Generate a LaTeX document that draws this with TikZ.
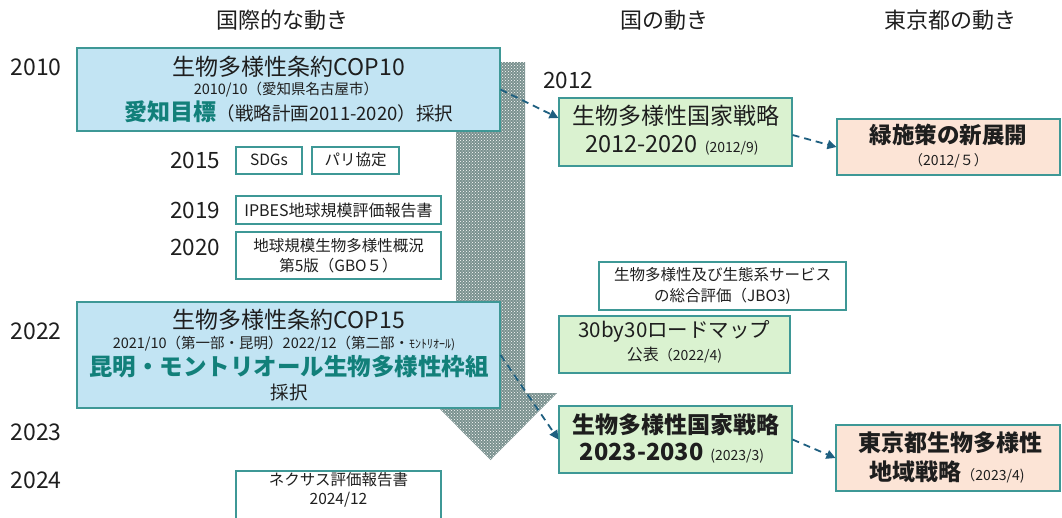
\documentclass[tikz,border=0pt]{standalone}
\usepackage{fontspec}
\setmainfont{Noto Sans CJK JP}
\usetikzlibrary{arrows.meta,patterns}
\definecolor{boxline}{RGB}{62,152,150}
\definecolor{bluefill}{RGB}{194,228,243}
\definecolor{greenfill}{RGB}{218,242,208}
\definecolor{peachfill}{RGB}{252,228,214}
\definecolor{tealtxt}{RGB}{18,128,122}
\definecolor{arrowblue}{RGB}{30,95,128}
\definecolor{arrowgray}{RGB}{122,145,143}
\definecolor{txt}{RGB}{30,30,30}
\newcommand\fs[2]{\fontsize{#1}{#2}\selectfont}
\tikzset{
  box/.style={draw=boxline, line width=1.1pt, inner sep=0pt, rectangle},
  bluebox/.style={box, fill=bluefill},
  greenbox/.style={box, fill=greenfill},
  peachbox/.style={box, fill=peachfill},
  whitebox/.style={box, fill=white},
  tx/.style={inner sep=0pt, text=txt, anchor=center},
  dasharrow/.style={draw=arrowblue, line width=1.8pt, dash pattern=on 7pt off 5pt,
    -{Triangle[length=9pt,width=9pt]}},
}
\begin{document}
\begin{tikzpicture}[x=1pt,y=-1pt]
\useasboundingbox (0,0) rectangle (1062,517);
% big timeline arrow
\fill[arrowgray] (456,62) -- (525,62) -- (525,393) -- (557,393) -- (490.5,460) -- (424,393) -- (456,393) -- cycle;
\fill[pattern=crosshatch dots, pattern color=white] (456,62) -- (525,62) -- (525,393) -- (557,393) -- (490.5,460) -- (424,393) -- (456,393) -- cycle;

% headers
\node[tx] (h1) at (282,20) {\fs{22}{26}国際的な動き};
\node[tx] (h2) at (664,20) {\fs{22}{26}国の動き};
\node[tx] (h3) at (950,20) {\fs{22}{26}東京都の動き};

% years
\node[tx] (y2010) at (36,67) {\fs{23}{27}2010};
\node[tx] (y2022) at (36,331) {\fs{23}{27}2022};
\node[tx] (y2023) at (36,432) {\fs{23}{27}2023};
\node[tx] (y2024) at (36,480) {\fs{23}{27}2024};
\node[tx] (y2015) at (195,160) {\fs{22.5}{27}2015};
\node[tx] (y2019) at (195,210) {\fs{22.5}{27}2019};
\node[tx] (y2020) at (195,247) {\fs{22.5}{27}2020};
\node[tx] (y2012) at (568,80) {\fs{22.5}{27}2012};

% international column
\node[bluebox, minimum width=423pt, minimum height=83pt] (cop10) at (288.5,89.5) {};
\node[tx] (cop10a) at (289,67) {\fs{23}{27}生物多様性条約COP10};
\node[tx] (cop10b) at (286,90) {\fs{14.5}{17}2010/10（愛知県名古屋市）};
\node[tx] (cop10c) at (289,112) {{\fs{23}{27}\bfseries\color{tealtxt}愛知目標}{\fs{18.5}{22}（戦略計画2011-2020）採択}};

\node[whitebox, minimum width=66pt, minimum height=27pt] (sdgs) at (269,160.5) {};
\node[tx] (sdgst) at (269,160) {\fs{15.5}{18}SDGs};
\node[whitebox, minimum width=87pt, minimum height=27pt] (paris) at (355.5,160.5) {};
\node[tx] (parist) at (355.5,160) {\fs{15.5}{18}パリ協定};

\node[whitebox, minimum width=205pt, minimum height=28pt] (ipbes) at (338.5,210) {};
\node[tx] (ipbest) at (338.5,210) {\fs{16}{19}IPBES地球規模評価報告書};

\node[whitebox, minimum width=205pt, minimum height=47pt] (gbo) at (338.5,255.5) {};
\node[tx] (gboa) at (338.5,246) {\fs{15.5}{18}地球規模生物多様性概況};
\node[tx] (gbob) at (338.5,266) {\fs{15.5}{18}第5版（GBO５）};

\node[bluebox, minimum width=423pt, minimum height=106pt] (cop15) at (288.5,355) {};
\node[tx] (cop15a) at (289,320) {\fs{23}{27}生物多様性条約COP15};
\node[tx] (cop15b) at (284,344) {\fs{14.5}{17}2021/10（第一部・昆明）2022/12（第二部・{\fs{12}{14}ﾓﾝﾄﾘｵｰﾙ)}};
\node[tx] (cop15c) at (289,367) {\fs{23.5}{28}\bfseries\color{tealtxt}昆明・モントリオール生物多様性枠組};
\node[tx] (cop15d) at (289,392) {\fs{18.5}{22}採択};

\node[whitebox, minimum width=205pt, minimum height=51pt] (nexus) at (338.5,496.5) {};
\node[tx] (nexusa) at (338.5,480) {\fs{15.5}{18}ネクサス評価報告書};
\node[tx] (nexusb) at (338.5,500) {\fs{15.5}{18}2024/12};

% national column
\node[greenbox, minimum width=233pt, minimum height=68pt] (ns2012) at (675.5,132) {};
\node[tx] (ns2012a) at (676,116) {\fs{23}{27}生物多様性国家戦略};
\node[tx] (ns2012b) at (672,145) {{\fs{23.5}{27}2012-2020}\hspace{7pt}{\fs{14}{16}(2012/9)}};

\node[whitebox, minimum width=247pt, minimum height=48pt] (jbo) at (722.5,286) {};
\node[tx] (jboa) at (722.5,275) {\fs{15.5}{18}生物多様性及び生態系サービス};
\node[tx] (jbob) at (722.5,296) {\fs{15.5}{18}の総合評価（JBO3)};

\node[greenbox, minimum width=231pt, minimum height=57pt] (r3030) at (674.5,344.5) {};
\node[tx] (r3030a) at (674.5,331) {\fs{20.5}{24}30by30ロードマップ};
\node[tx] (r3030b) at (674.5,355) {{\fs{16}{19}公表}{\fs{14}{17}（2022/4)}};

\node[greenbox, minimum width=233pt, minimum height=67pt] (ns2023) at (675.5,439.5) {};
\node[tx] (ns2023a) at (676,425) {\fs{23}{27}\bfseries 生物多様性国家戦略};
\node[tx] (ns2023b) at (672,453) {{\fs{23.5}{27}\bfseries 2023-2030}\hspace{7pt}{\fs{14}{16}(2023/3)}};

% Tokyo column
\node[peachbox, minimum width=223pt, minimum height=56pt] (midori) at (948.5,147) {};
\node[tx] (midoria) at (948.5,135) {\fs{22.5}{26}\bfseries 緑施策の新展開};
\node[tx] (midorib) at (948.5,161) {\fs{14}{16}（2012/５）};

\node[peachbox, minimum width=224pt, minimum height=66pt] (tokyo) at (948,458) {};
\node[tx] (tokyoa) at (950,443) {\fs{23}{27}\bfseries 東京都生物多様性};
\node[tx] (tokyob) at (947,472) {{\fs{23}{27}\bfseries 地域戦略}{\fs{14}{16}（2023/4)}};

% dashed connectors
\draw[dasharrow] (cop10.east) -- ([yshift=14pt]ns2012.west);
\draw[dasharrow] ([yshift=-3pt]ns2012.east) -- (midori.west);
\draw[dasharrow] (cop15.east) -- (ns2023.west);
\draw[dasharrow] (ns2023.east) -- (tokyo.west);
\end{tikzpicture}
\end{document}
